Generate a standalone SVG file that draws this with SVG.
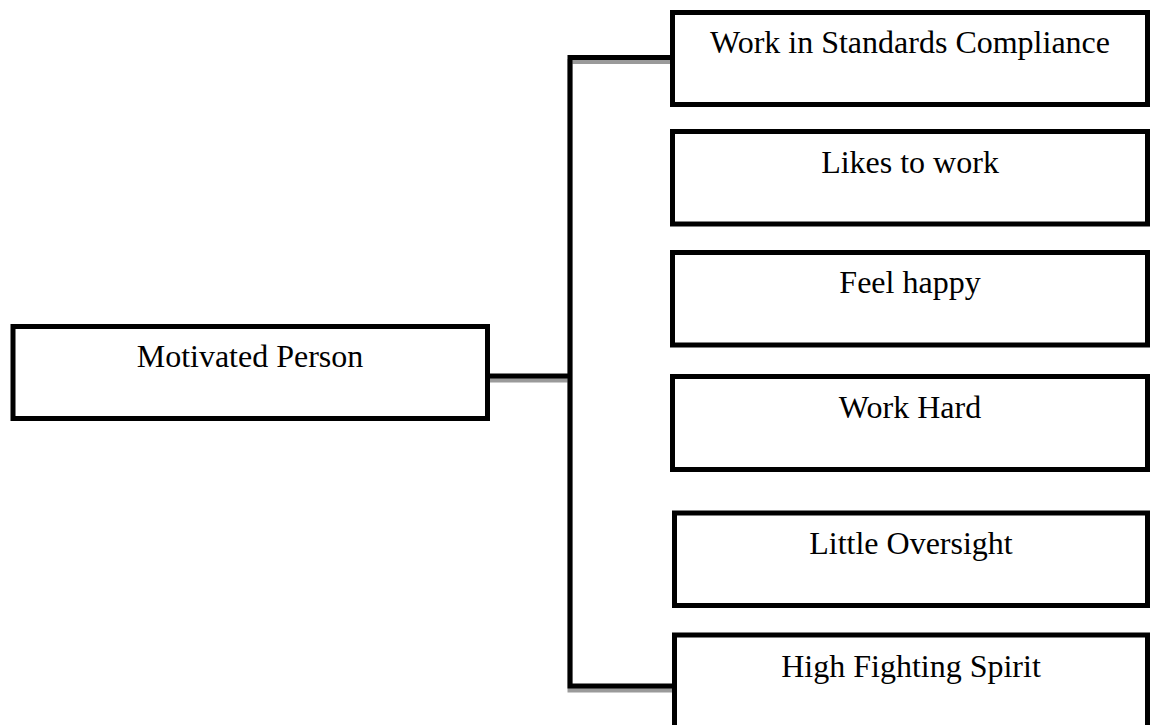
<svg xmlns="http://www.w3.org/2000/svg" width="1150" height="725" viewBox="0 0 1150 725">
<style>
  .box{fill:#fff;stroke:#000;stroke-width:5}
  .lbl{font-family:"Liberation Serif","Times New Roman",serif;font-size:32px;fill:#000;text-anchor:middle}
  .ln{fill:none;stroke:#000;stroke-width:5;stroke-linejoin:miter;stroke-linecap:butt}
  .sh{fill:none;stroke:#9a9a9a;stroke-width:5;stroke-linejoin:miter;stroke-linecap:butt}
</style>
<rect width="1150" height="725" fill="#fff"/>
<g id="connectors">
  <path class="sh" d="M672.5 61.5 H570 V690 H672.5"/>
  <path class="sh" d="M487.5 380 H570"/>
  <path class="ln" d="M672.5 57.5 H570 V686 H674.5"/>
  <path class="ln" d="M487.5 376 H570"/>
</g>
<g id="motivated">
  <rect class="box" x="13" y="326.5" width="474.5" height="92"/>
  <text class="lbl" x="250" y="366.7">Motivated Person</text>
</g>
<g id="standards">
  <rect class="box" x="672.5" y="12.5" width="475" height="92"/>
  <text class="lbl" x="910" y="53">Work in Standards Compliance</text>
</g>
<g id="likes">
  <rect class="box" x="672.5" y="131.5" width="475" height="92.5"/>
  <text class="lbl" x="910" y="172.7">Likes to work</text>
</g>
<g id="happy">
  <rect class="box" x="672.5" y="252.5" width="475" height="92.5"/>
  <text class="lbl" x="910" y="293">Feel happy</text>
</g>
<g id="hard">
  <rect class="box" x="672.5" y="376.5" width="475" height="93"/>
  <text class="lbl" x="910" y="418">Work Hard</text>
</g>
<g id="oversight">
  <rect class="box" x="674.5" y="513" width="473" height="92.5"/>
  <text class="lbl" x="911" y="554">Little Oversight</text>
</g>
<g id="spirit">
  <rect class="box" x="674.5" y="635" width="473" height="110"/>
  <text class="lbl" x="911" y="677">High Fighting Spirit</text>
</g>
</svg>
